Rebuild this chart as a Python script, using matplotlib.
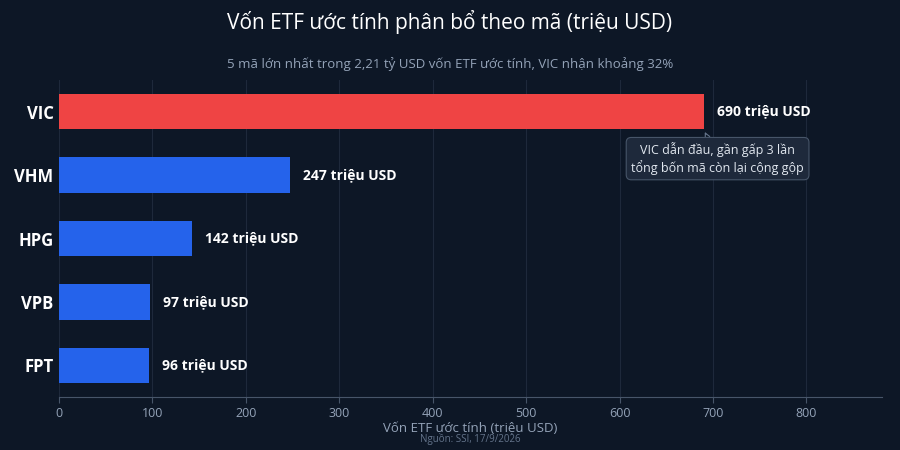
import matplotlib
matplotlib.use("Agg")
import matplotlib.pyplot as plt

tickers = ["VIC", "VHM", "HPG", "VPB", "FPT"]
values = [690, 247, 142, 97, 96]
colors = ["#ef4444", "#2563eb", "#2563eb", "#2563eb", "#2563eb"]
xticks = [0, 100, 200, 300, 400, 500, 600, 700, 800]

plt.rcParams['font.family'] = ['Open Sans', 'Noto Sans', 'DejaVu Sans']
bg = "#0d1726"
fig = plt.figure(figsize=(9, 4.5), dpi=100, facecolor=bg)
ax = fig.add_axes([0.0656, 0.1178, 0.9144, 0.7044], facecolor=bg)

ys = list(range(len(tickers) - 1, -1, -1))
ax.barh(ys, values, height=0.56, color=colors, zorder=3)
for y, v in zip(ys, values):
    ax.text(v + 14, y, f"{v} triệu USD", color="white", fontsize=10, fontweight="bold",
            va="center", ha="left", zorder=4)

ax.set_xlim(0, 881)
ax.set_ylim(-0.5, 4.5)
ax.set_yticks(ys)
ax.set_yticklabels(tickers, color="white", fontsize=12, fontweight="bold")
ax.set_xticks(xticks)
ax.set_xticklabels([str(t) for t in xticks], color="#94a3b8", fontsize=9)
ax.tick_params(axis="y", length=0, pad=4)
ax.tick_params(axis="x", colors="#475569", labelcolor="#94a3b8", length=4)
ax.grid(axis="x", color="#1e293b", linewidth=0.8, zorder=0)
for s in ["top", "right", "left"]:
    ax.spines[s].set_visible(False)
ax.spines["bottom"].set_color("#475569")
ax.set_xlabel("Vốn ETF ước tính (triệu USD)", color="#94a3b8", fontsize=9.5, labelpad=1)

ax.annotate("VIC dẫn đầu, gần gấp 3 lần\ntổng bốn mã còn lại cộng gộp",
            xy=(690, 4 - 0.28), xytext=(705, 3.26), ha="center", va="center",
            color="#e2e8f0", fontsize=9,
            bbox=dict(boxstyle="round,pad=0.4", fc="#1e293b", ec="#475569", lw=0.8),
            arrowprops=dict(arrowstyle="->", color="#64748b", lw=0.8), zorder=5)

fig.text(0.5, 0.95, "Vốn ETF ước tính phân bổ theo mã (triệu USD)", ha="center", va="center",
         color="white", fontsize=15)
fig.text(0.5, 0.858, "5 mã lớn nhất trong 2,21 tỷ USD vốn ETF ước tính, VIC nhận khoảng 32%",
         ha="center", va="center", color="#94a3b8", fontsize=9.5)
fig.text(0.523, 0.012, "Nguồn: SSI, 17/9/2026", ha="center", va="bottom", color="#64748b", fontsize=7)

fig.savefig("out.png", dpi=100, facecolor=bg)
